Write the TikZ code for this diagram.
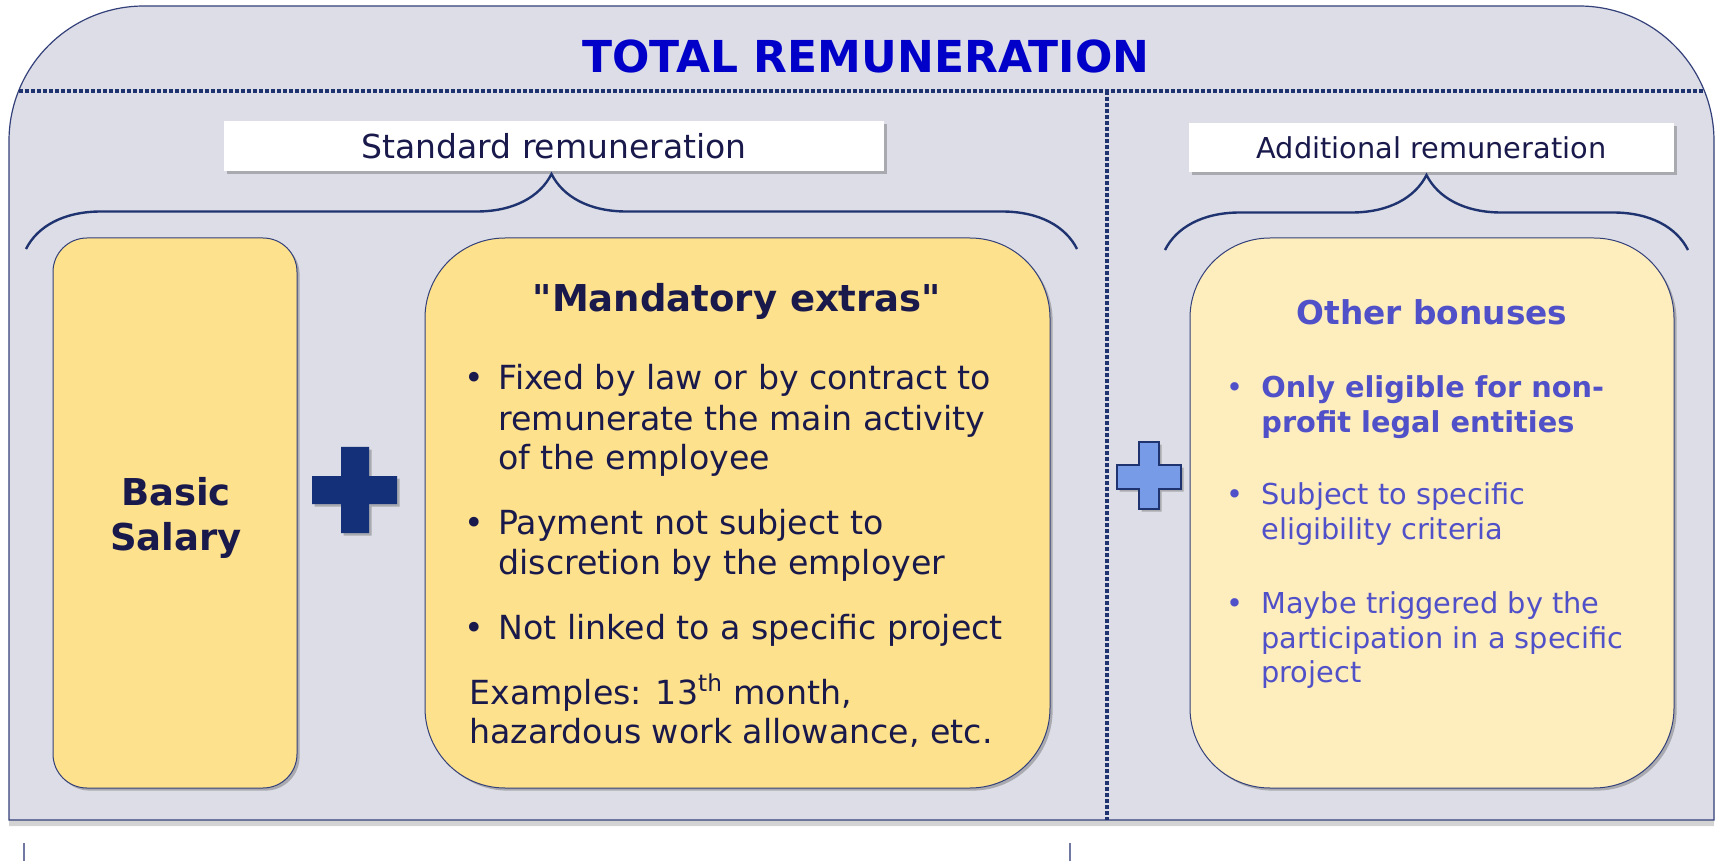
\documentclass[tikz,border=0pt]{standalone}
\usepackage{fontspec}
\setmainfont{DejaVu Sans}[Ligatures=TeXOff]
\usetikzlibrary{shadows,decorations.pathreplacing}
\definecolor{bgc}{HTML}{DCDDE6}
\definecolor{edgec}{HTML}{34407A}
\definecolor{navy}{HTML}{1F3370}
\definecolor{txt}{HTML}{19194B}
\definecolor{ttl}{HTML}{0000C8}
\definecolor{yel}{HTML}{FDE18C}
\definecolor{yell}{HTML}{FEEEBE}
\definecolor{bonus}{HTML}{5050C8}
\definecolor{plusA}{HTML}{143078}
\definecolor{plusB}{HTML}{789BE8}
\tikzset{
  softshadow/.style={drop shadow={shadow xshift=1.3pt, shadow yshift=-1.3pt, opacity=0.35, fill=black!70}},
  cardbox/.style={draw=edgec, line width=0.5pt, softshadow, inner sep=0, minimum height=275pt},
  labelbox/.style={fill=white, inner sep=0, text=txt, softshadow},
  mtxt/.style={text=txt, inner sep=0, anchor=base west, font=\fontsize{16.6pt}{20pt}\selectfont},
  mdot/.style={text=txt, inner sep=0, anchor=base, font=\fontsize{16.6pt}{20pt}\selectfont},
  btxt/.style={text=bonus, inner sep=0, anchor=base west, font=\fontsize{14.4pt}{17pt}\selectfont},
  bdot/.style={text=bonus, inner sep=0, anchor=base, font=\fontsize{14.4pt}{17pt}\selectfont},
  dotline/.style={navy, line width=1.6pt, dash pattern=on 2pt off 1pt},
  bracestyle/.style={navy, line width=1.2pt, decorate, decoration={brace, amplitude=37.5pt}}
}
\begin{document}
\begin{tikzpicture}[x=0.5pt, y=-0.5pt]
\useasboundingbox (0,0) rectangle (1715,861);
% outer panel
\path[fill=bgc, draw=edgec, line width=0.6pt, drop shadow={shadow xshift=0pt, shadow yshift=-3pt, opacity=0.35}]
  (9,820) -- (9,141) .. controls (9,66.5) and (69.5,6) .. (144,6) -- (1579,6)
  .. controls (1653.5,6) and (1714,66.5) .. (1714,141) -- (1714,820) -- cycle;
% dotted separators
\coordinate (hl) at (19,91);
\coordinate (hr) at (1704,91);
\coordinate (vt) at (1107,91);
\coordinate (vb) at (1107,820);
\draw[dotline] (hl) -- (hr);
\draw[dotline] (vt) -- (vb);
% title
\node[font=\fontsize{22pt}{26pt}\selectfont\bfseries, text=ttl, inner sep=0, anchor=base] (title) at (866,73) {TOTAL REMUNERATION};
% labels
\node[labelbox, minimum width=330pt, minimum height=25pt, font=\fontsize{16.5pt}{20pt}\selectfont] (stdlab) at (554,146) {Standard remuneration};
\node[labelbox, minimum width=242.5pt, minimum height=24.5pt, font=\fontsize{14.4pt}{18pt}\selectfont] (addlab) at (1431.5,147.5) {Additional remuneration};
% braces
\coordinate (bl1) at (26,249);
\coordinate (bl2) at (1077,249);
\coordinate (br1) at (1165,250);
\coordinate (br2) at (1688,250);
\draw[bracestyle] (bl1) -- (bl2);
\draw[bracestyle] (br1) -- (br2);
% cards
\node[cardbox, fill=yel, minimum width=122pt, rounded corners=17pt] (basic) at (175,513) {};
\node[cardbox, fill=yel, minimum width=312.5pt, rounded corners=40pt] (mand) at (737.5,513) {};
\node[cardbox, fill=yell, minimum width=242pt, rounded corners=40pt] (bon) at (1432,513) {};
% plus signs
\path[fill=plusA, softshadow] (341,447) -- (369,447) -- (369,476) -- (397,476) -- (397,504) -- (369,504)
  -- (369,533) -- (341,533) -- (341,504) -- (312,504) -- (312,476) -- (341,476) -- cycle;
\path[fill=plusB, draw=navy, line width=0.8pt, softshadow] (1139,442) -- (1159,442) -- (1159,465) -- (1181,465) -- (1181,489) -- (1159,489)
  -- (1159,509) -- (1139,509) -- (1139,489) -- (1117,489) -- (1117,465) -- (1139,465) -- cycle;
% basic salary
\node[text=txt, inner sep=0, anchor=base, font=\fontsize{18.5pt}{22pt}\selectfont\bfseries] (bs1) at (176,505) {Basic};
\node[text=txt, inner sep=0, anchor=base, font=\fontsize{18.5pt}{22pt}\selectfont\bfseries] (bs2) at (176,550) {Salary};
% mandatory extras
\node[text=txt, inner sep=0, anchor=base, font=\fontsize{18.5pt}{22pt}\selectfont\bfseries] (mt) at (737,312) {"Mandatory extras"};
\node[mdot] (md1) at (474,390) {•};
\node[mtxt] (m1) at (498,390) {Fixed by law or by contract to};
\node[mtxt] (m2) at (498,430) {remunerate the main activity};
\node[mtxt] (m3) at (498,469) {of the employee};
\node[mdot] (md2) at (474,534) {•};
\node[mtxt] (m4) at (498,534) {Payment not subject to};
\node[mtxt] (m5) at (498,574) {discretion by the employer};
\node[mdot] (md3) at (474,639) {•};
\node[mtxt] (m6) at (498,639) {Not linked to a specific project};
\node[mtxt] (m7) at (469,704) {Examples: 13\textsuperscript{th} month,};
\node[mtxt] (m8) at (469,743) {hazardous work allowance, etc.};
% other bonuses
\node[text=bonus, inner sep=0, anchor=base, font=\fontsize{16.4pt}{20pt}\selectfont\bfseries] (bt) at (1432,325) {Other bonuses};
\node[bdot] (bd1) at (1235,398) {•};
\node[btxt, font=\fontsize{14.4pt}{17pt}\selectfont\bfseries] (b1) at (1261,398) {Only eligible for non-};
\node[btxt, font=\fontsize{14.4pt}{17pt}\selectfont\bfseries] (b2) at (1261,433) {profit legal entities};
\node[bdot] (bd2) at (1235,504) {•};
\node[btxt] (b3) at (1261,504) {Subject to specific};
\node[btxt] (b4) at (1261,539) {eligibility criteria};
\node[bdot] (bd3) at (1235,613) {•};
\node[btxt] (b5) at (1261,613) {Maybe triggered by the};
\node[btxt] (b6) at (1261,648) {participation in a specific};
\node[btxt] (b7) at (1261,682) {project};
% bottom ticks
\coordinate (t1a) at (24,843);
\coordinate (t1b) at (24,861);
\coordinate (t2a) at (1070,843);
\coordinate (t2b) at (1070,861);
\draw[edgec!70, line width=0.6pt] (t1a) -- (t1b);
\draw[edgec!70, line width=0.6pt] (t2a) -- (t2b);
\end{tikzpicture}
\end{document}
